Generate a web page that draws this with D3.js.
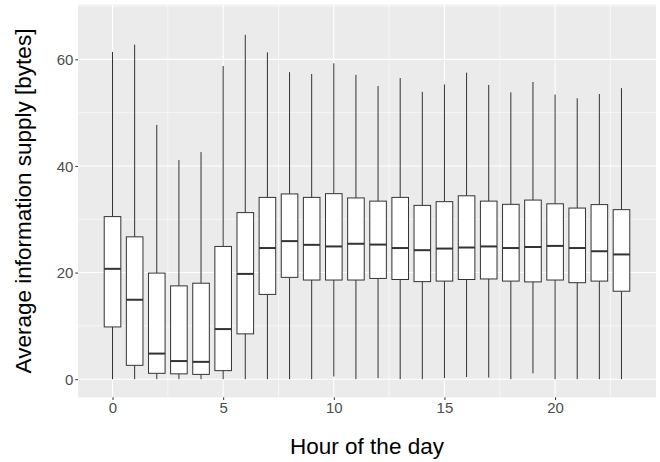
<!DOCTYPE html>
<html>
<head>
<meta charset="utf-8">
<script src="https://cdn.jsdelivr.net/npm/d3@7"></script>
<style>
  body { margin: 0; background: #fff; }
  svg { display: block; font-family: "Liberation Sans", Arial, sans-serif; }
</style>
</head>
<body>
<svg width="660" height="462"></svg>
<script>
// values, one entry per hour
var hours = d3.range(0, 24);
var whiskerLow = [0, 0, 0, 0, 0, 0, 0, 0, 0, 0, 0.5, 0, 0.2, 0, 0, 0.2, 0.4, 0.3, 0, 1.1, 0, 0, 0, 0];
var q1 = [9.8, 2.6, 1.1, 1.0, 0.9, 1.6, 8.5, 15.9, 19.1, 18.6, 18.6, 18.6, 18.9, 18.7, 18.3, 18.4, 18.7, 18.8, 18.4, 18.25, 18.6, 18.1, 18.4, 16.5];
var median = [20.7, 14.9, 4.8, 3.4, 3.25, 9.4, 19.75, 24.6, 25.9, 25.2, 24.9, 25.4, 25.25, 24.6, 24.2, 24.5, 24.7, 24.9, 24.6, 24.8, 25.0, 24.6, 24.0, 23.4];
var q3 = [30.5, 26.7, 19.9, 17.5, 18.0, 24.9, 31.25, 34.1, 34.75, 34.1, 34.8, 34.0, 33.4, 34.1, 32.6, 33.3, 34.4, 33.4, 32.8, 33.6, 32.9, 32.1, 32.75, 31.8];
var whiskerHigh = [61.4, 62.75, 47.7, 41.1, 42.6, 58.75, 64.6, 61.3, 57.6, 57.25, 59.25, 57.1, 55.0, 56.5, 53.9, 55.3, 57.5, 55.2, 53.8, 55.75, 53.4, 52.7, 53.5, 54.6];

var xTicks = [0, 5, 10, 15, 20];
var xMinor = [2.5, 7.5, 12.5, 17.5, 22.5];
var yTicks = [0, 20, 40, 60];
var yMinor = [10, 30, 50, 70];

var xTitle = "Hour of the day";
var yTitle = "Average information supply [bytes]";

var svg = d3.select("svg");
var panel = { left: 78, right: 656, top: 4.7, bottom: 397.3 };

var x = d3.scaleLinear().domain([-1.56, 24.56]).range([panel.left, panel.right]);
var y = d3.scaleLinear().domain([-3.4, 70.25]).range([panel.bottom, panel.top]);
var boxW = x(0.75) - x(0);

var boxes = hours.map(function(h, i) {
    return { hour: h, lo: whiskerLow[i], q1: q1[i], med: median[i], q3: q3[i], hi: whiskerHigh[i] };
});

// panel background
svg.append("rect")
    .attr("x", panel.left).attr("y", panel.top)
    .attr("width", panel.right - panel.left).attr("height", panel.bottom - panel.top)
    .attr("fill", "#ebebeb");

var grid = svg.append("g").attr("stroke", "#fff");

grid.selectAll(".ymin").data(yMinor).enter().append("line")
    .attr("x1", panel.left).attr("x2", panel.right)
    .attr("y1", function(d) { return y(d); }).attr("y2", function(d) { return y(d); })
    .attr("stroke-width", 0.55);
grid.selectAll(".xmin").data(xMinor).enter().append("line")
    .attr("y1", panel.top).attr("y2", panel.bottom)
    .attr("x1", function(d) { return x(d); }).attr("x2", function(d) { return x(d); })
    .attr("stroke-width", 0.55);
grid.selectAll(".ymaj").data(yTicks).enter().append("line")
    .attr("x1", panel.left).attr("x2", panel.right)
    .attr("y1", function(d) { return y(d); }).attr("y2", function(d) { return y(d); })
    .attr("stroke-width", 1.1);
grid.selectAll(".xmaj").data(xTicks).enter().append("line")
    .attr("y1", panel.top).attr("y2", panel.bottom)
    .attr("x1", function(d) { return x(d); }).attr("x2", function(d) { return x(d); })
    .attr("stroke-width", 1.1);

// boxes
var box = svg.append("g").selectAll("g").data(boxes).enter().append("g")
    .attr("stroke", "#333333").attr("stroke-width", 1);

box.append("line")
    .attr("x1", function(d) { return x(d.hour); }).attr("x2", function(d) { return x(d.hour); })
    .attr("y1", function(d) { return y(d.q3); }).attr("y2", function(d) { return y(d.hi); });
box.append("line")
    .attr("x1", function(d) { return x(d.hour); }).attr("x2", function(d) { return x(d.hour); })
    .attr("y1", function(d) { return y(d.q1); }).attr("y2", function(d) { return y(d.lo); });
box.append("rect")
    .attr("x", function(d) { return x(d.hour) - boxW / 2; })
    .attr("width", boxW)
    .attr("y", function(d) { return y(d.q3); })
    .attr("height", function(d) { return y(d.q1) - y(d.q3); })
    .attr("fill", "#fff");
box.append("line")
    .attr("x1", function(d) { return x(d.hour) - boxW / 2; })
    .attr("x2", function(d) { return x(d.hour) + boxW / 2; })
    .attr("y1", function(d) { return y(d.med); }).attr("y2", function(d) { return y(d.med); })
    .attr("stroke-width", 2);

// axes
var xAxis = svg.append("g")
    .attr("transform", "translate(0," + panel.bottom + ")")
    .call(d3.axisBottom(x).tickValues(xTicks).tickSize(2.7).tickPadding(2.5).tickFormat(d3.format("d")));
var yAxis = svg.append("g")
    .attr("transform", "translate(" + panel.left + ",0)")
    .call(d3.axisLeft(y).tickValues(yTicks).tickSize(2.7).tickPadding(2).tickFormat(d3.format("d")));

[xAxis, yAxis].forEach(function(a) {
    a.select(".domain").remove();
    a.selectAll(".tick line").attr("stroke", "#333333");
    a.selectAll(".tick text")
        .attr("fill", "#4d4d4d")
        .style("font-size", "15px")
        .style("font-family", "'Liberation Sans', Arial, sans-serif");
});
yAxis.selectAll(".tick text").attr("dy", "0.36em");

svg.append("text")
    .attr("x", (panel.left + panel.right) / 2)
    .attr("y", 453.5)
    .attr("text-anchor", "middle")
    .style("font-size", "22.5px")
    .attr("fill", "#000")
    .text(xTitle);

svg.append("text")
    .attr("transform", "translate(31," + (panel.top + panel.bottom) / 2 + ") rotate(-90)")
    .attr("text-anchor", "middle")
    .style("font-size", "22.5px")
    .attr("fill", "#000")
    .text(yTitle);
</script>
</body>
</html>
